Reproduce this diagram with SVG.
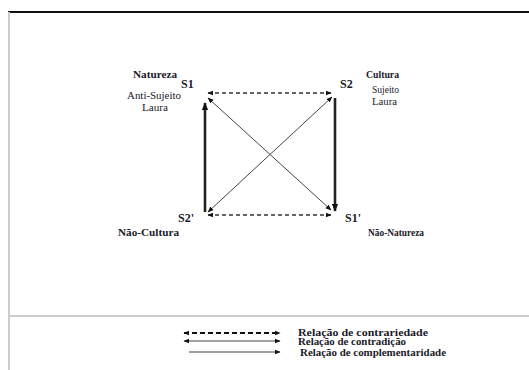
<svg xmlns="http://www.w3.org/2000/svg" width="529" height="370" viewBox="0 0 529 370">
<defs>
<style>
.t{font-family:"Liberation Serif","Times New Roman",serif;fill:#1a1a2a}
.b{font-weight:bold}
.s{font-size:12px;font-weight:bold}
.l{font-size:9.5px}
.dash{stroke:#333;stroke-width:1.3;stroke-dasharray:4 3;fill:none}
.ldash{stroke:#111;stroke-width:2;stroke-dasharray:5 3;fill:none}
.thin{stroke:#444;stroke-width:1;fill:none}
.thick{stroke:#222;stroke-width:2.6;fill:none}
</style>
<marker id="ah" viewBox="0 0 10 10" refX="9" refY="5" markerWidth="6" markerHeight="6" orient="auto-start-reverse" markerUnits="userSpaceOnUse">
<path d="M0,1 L10,5 L0,9 Z" fill="#111"/>
</marker>
<marker id="ahb" viewBox="0 0 10 10" refX="9" refY="5" markerWidth="8" markerHeight="8" orient="auto-start-reverse" markerUnits="userSpaceOnUse">
<path d="M0,1 L10,5 L0,9 Z" fill="#111"/>
</marker>
</defs>
<rect width="529" height="370" fill="#fff"/>
<g id="frame">
<line x1="8" y1="12" x2="529" y2="12" stroke="#111" stroke-width="2"/>
<line x1="9" y1="12" x2="9" y2="370" stroke="#ccc" stroke-width="2"/>
<line x1="9" y1="316" x2="529" y2="316" stroke="#ccc" stroke-width="2"/>
</g>
<g id="connectors">
<line class="dash" x1="208" y1="93" x2="331" y2="93" marker-start="url(#ah)" marker-end="url(#ah)"/>
<line class="dash" x1="208" y1="215" x2="331" y2="215" marker-start="url(#ah)" marker-end="url(#ah)"/>
<line class="thin" x1="208" y1="98" x2="331" y2="210" marker-start="url(#ah)" marker-end="url(#ah)"/>
<line class="thin" x1="332" y1="97" x2="208" y2="212" marker-start="url(#ah)" marker-end="url(#ah)"/>
<line class="thick" x1="205" y1="212" x2="205" y2="103" marker-end="url(#ahb)"/>
<line class="thick" x1="335" y1="98" x2="335" y2="211" marker-end="url(#ahb)"/>
</g>
<g id="node-s1">
<text class="t b l" x="133" y="78" textLength="44" lengthAdjust="spacingAndGlyphs">Natureza</text>
<text class="t s" x="181" y="88">S1</text>
<text class="t l" x="127" y="99" textLength="54" lengthAdjust="spacingAndGlyphs">Anti-Sujeito</text>
<text class="t l" x="142" y="111" textLength="26" lengthAdjust="spacingAndGlyphs">Laura</text>
</g>
<g id="node-s2">
<text class="t s" x="340" y="88">S2</text>
<text class="t b l" x="366" y="78" textLength="33" lengthAdjust="spacingAndGlyphs">Cultura</text>
<text class="t l" x="372" y="93" textLength="27" lengthAdjust="spacingAndGlyphs">Sujeito</text>
<text class="t l" x="372" y="105" textLength="25" lengthAdjust="spacingAndGlyphs">Laura</text>
</g>
<g id="node-s2p">
<text class="t s" x="178" y="222">S2'</text>
<text class="t b l" x="118" y="236" textLength="61" lengthAdjust="spacingAndGlyphs">Não-Cultura</text>
</g>
<g id="node-s1p">
<text class="t s" x="345" y="222">S1'</text>
<text class="t b l" x="368" y="236" textLength="56" lengthAdjust="spacingAndGlyphs">Não-Natureza</text>
</g>
<g id="legend">
<line class="ldash" x1="184" y1="333" x2="280" y2="333" marker-start="url(#ah)" marker-end="url(#ah)"/>
<line class="thin" x1="184" y1="341" x2="280" y2="341" stroke="#111" marker-start="url(#ah)" marker-end="url(#ah)"/>
<line class="thin" x1="189" y1="352" x2="280" y2="352" stroke="#111" stroke-width="1.6" marker-end="url(#ah)"/>
<text class="t b l" x="298" y="336" textLength="130" lengthAdjust="spacingAndGlyphs">Relação de contrariedade</text>
<text class="t b l" x="298" y="345" textLength="108" lengthAdjust="spacingAndGlyphs">Relação de contradição</text>
<text class="t b l" x="300" y="356" textLength="146" lengthAdjust="spacingAndGlyphs">Relação de complementaridade</text>
</g>
</svg>
